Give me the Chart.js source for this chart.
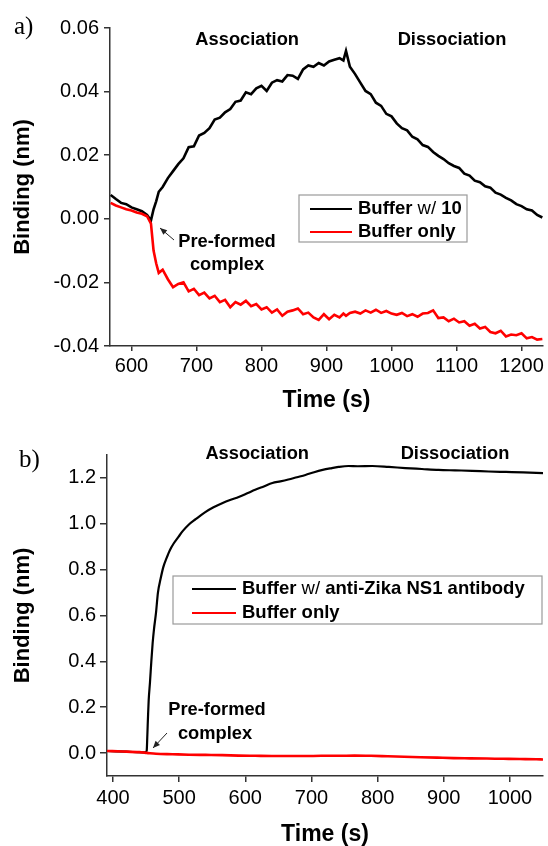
<!DOCTYPE html>
<html><head><meta charset="utf-8">
<script src="https://cdn.jsdelivr.net/npm/chart.js@4.4.1/dist/chart.umd.min.js"></script>
<style>
html,body{margin:0;padding:0;background:#fff;}
#wrap{position:relative;width:548px;height:846px;overflow:hidden;}
.pane{position:absolute;left:0;width:548px;height:423px;}
</style></head><body>
<div id="wrap">
<div class="pane" style="top:0"><canvas id="cA" width="548" height="423"></canvas></div>
<div class="pane" style="top:423px"><canvas id="cB" width="548" height="423"></canvas></div>
</div>
<script>
// ---- Panel a) data ----
const timeA = [568,576,584,592,600,608,616,624,630,634,638,642,648,656,664,672,680,688,696,704,
712,720,728,736,744,752,760,768,776,784,792,800,808,816,824,832,840,848,856,864,
872,880,888,896,904,912,920,926,930,936,944,952,960,968,976,984,992,1000,1008,1016,
1024,1032,1040,1048,1056,1064,1072,1080,1088,1096,1104,1112,1120,1128,1136,1144,1152,1160,1168,1176,
1184,1192,1200,1208,1216,1224,1232];
const bufferWith10A = [0.0075,0.0062,0.0050,0.0046,0.0036,0.0030,0.0024,0.0012,-0.0005,0.0030,
0.0055,0.0085,0.0100,0.0128,0.0150,0.0172,0.0190,0.0225,0.0228,0.0262,
0.0270,0.0285,0.0312,0.0318,0.0335,0.0345,0.0368,0.0372,0.0398,0.0392,
0.0410,0.0418,0.0402,0.0428,0.0436,0.0432,0.0452,0.0450,0.0440,0.0470,
0.0482,0.0478,0.0490,0.0482,0.0495,0.0500,0.0505,0.0498,0.0528,0.0478,
0.0455,0.0428,0.0402,0.0392,0.0365,0.0355,0.0330,0.0322,0.0300,0.0285,
0.0278,0.0258,0.0250,0.0232,0.0226,0.0210,0.0198,0.0188,0.0175,0.0166,
0.0160,0.0142,0.0136,0.0120,0.0115,0.0102,0.0098,0.0082,0.0076,0.0066,
0.0058,0.0046,0.0040,0.0030,0.0026,0.0012,0.0004];
const bufferOnlyA = [0.0050,0.0042,0.0036,0.0030,0.0026,0.0020,0.0016,0.0008,-0.0015,-0.0100,
-0.0140,-0.0170,-0.0160,-0.0190,-0.0215,-0.0205,-0.0200,-0.0228,-0.0220,-0.0240,
-0.0232,-0.0250,-0.0242,-0.0262,-0.0255,-0.0278,-0.0262,-0.0270,-0.0258,-0.0275,
-0.0268,-0.0285,-0.0278,-0.0295,-0.0285,-0.0305,-0.0292,-0.0288,-0.0282,-0.0300,
-0.0295,-0.0310,-0.0318,-0.0300,-0.0316,-0.0302,-0.0310,-0.0298,-0.0305,-0.0296,
-0.0292,-0.0298,-0.0288,-0.0295,-0.0286,-0.0296,-0.0290,-0.0298,-0.0302,-0.0296,
-0.0306,-0.0300,-0.0308,-0.0298,-0.0296,-0.0288,-0.0312,-0.0310,-0.0322,-0.0314,
-0.0326,-0.0322,-0.0336,-0.0330,-0.0345,-0.0340,-0.0356,-0.0360,-0.0352,-0.0370,
-0.0364,-0.0366,-0.0360,-0.0376,-0.0372,-0.0380,-0.0378];
const xTicksA = [600,700,800,900,1000,1100,1200];
const yTicksA = [-0.04,-0.02,0.00,0.02,0.04,0.06];

// ---- Panel b) data ----
const timeB1 = [391,420,449,451,452,453,454,456,458,460,462,465,468,472,476,481,486,492,499,506,
514,525,539,552,565,578,590,603,615,628,641,653,665,678,691,704,717,729,741,756,
770,792,817,842,867,892,917,943,968,994,1020,1050];
const antibodyB = [0.009,0.006,0.003,0.010,0.080,0.160,0.230,0.310,0.400,0.480,0.540,0.610,0.700,0.760,0.810,0.850,0.885,0.915,0.943,0.970,
0.995,1.020,1.050,1.072,1.090,1.105,1.117,1.133,1.148,1.163,1.178,1.185,1.193,1.203,1.213,1.225,1.235,1.242,1.248,1.252,
1.251,1.252,1.248,1.243,1.239,1.235,1.233,1.231,1.228,1.226,1.224,1.221];
const timeB2 = [391,415,440,451,465,490,515,540,565,590,615,640,665,690,715,740,765,790,815,840,865,890,915,940,965,990,1015,1040,1050];
const bufferOnlyB = [0.009,0.007,0.004,0.001,-0.003,-0.005,-0.007,-0.008,-0.009,-0.011,-0.012,-0.013,-0.013,-0.013,-0.012,-0.012,-0.011,-0.012,-0.014,-0.016,-0.018,-0.020,-0.022,-0.023,-0.024,-0.025,-0.026,-0.027,-0.028];
const xTicksB = [400,500,600,700,800,900,1000];
const yTicksB = [0.0,0.2,0.4,0.6,0.8,1.0,1.2];

const SANS = 'Arial, "Liberation Sans", sans-serif';
const SERIF = '"Times New Roman", "Liberation Serif", serif';
Chart.defaults.font.family = SANS;
Chart.defaults.color = '#000';

const toPts = (xs, ys) => xs.map((x, i) => ({x: x, y: ys[i]}));

const decor = {
  id: 'decor',
  afterDraw(chart, args, o) {
    const ctx = chart.ctx;
    const sx = chart.scales.x, sy = chart.scales.y;
    ctx.save();
    ctx.fillStyle = '#000';
    // panel label
    ctx.font = '25px ' + SERIF;
    ctx.textAlign = 'left'; ctx.textBaseline = 'alphabetic';
    ctx.fillText(o.panel.text, o.panel.x, o.panel.y);
    // phase labels
    ctx.font = 'bold 18.3px ' + SANS;
    ctx.textAlign = 'center'; ctx.textBaseline = 'middle';
    o.phases.forEach(p => ctx.fillText(p.text, sx.getPixelForValue(p.x), sy.getPixelForValue(p.y)));
    // note
    o.note.lines.forEach(l => ctx.fillText(l.text, l.x, l.y));
    // arrow
    const a = o.note.arrow;
    ctx.strokeStyle = '#222'; ctx.lineWidth = 1;
    ctx.beginPath(); ctx.moveTo(a[0], a[1]); ctx.lineTo(a[2], a[3]); ctx.stroke();
    const ang = Math.atan2(a[3] - a[1], a[2] - a[0]);
    const L = 7, W = 3;
    ctx.fillStyle = '#222';
    ctx.beginPath();
    ctx.moveTo(a[2], a[3]);
    ctx.lineTo(a[2] - L*Math.cos(ang) + W*Math.sin(ang), a[3] - L*Math.sin(ang) - W*Math.cos(ang));
    ctx.lineTo(a[2] - L*Math.cos(ang) - W*Math.sin(ang), a[3] - L*Math.sin(ang) + W*Math.cos(ang));
    ctx.closePath(); ctx.fill();
    // legend
    const lg = o.legend;
    ctx.strokeStyle = '#9a9a9a'; ctx.lineWidth = 1.2;
    ctx.strokeRect(lg.box[0], lg.box[1], lg.box[2], lg.box[3]);
    lg.items.forEach(it => {
      ctx.strokeStyle = it.color; ctx.lineWidth = 2.2;
      ctx.beginPath(); ctx.moveTo(lg.lineX[0], it.y); ctx.lineTo(lg.lineX[1], it.y); ctx.stroke();
      let x = lg.textX;
      ctx.textAlign = 'left'; ctx.textBaseline = 'middle'; ctx.fillStyle = '#000';
      it.parts.forEach(pt => {
        ctx.font = (pt[1] ? 'bold ' : '') + '18.5px ' + SANS;
        ctx.fillText(pt[0], x, it.y);
        x += ctx.measureText(pt[0]).width;
      });
    });
    ctx.restore();
  }
};

function axisCommon(opts) {
  return {
    type: 'linear', min: opts.min, max: opts.max,
    afterBuildTicks: s => { s.ticks = opts.ticks.map(v => ({value: v})); },
    afterFit: opts.fit,
    ticks: {font: {size: 20}, color: '#000', padding: opts.pad, autoSkip: false, maxRotation: 0,
            callback: opts.fmt},
    grid: {drawOnChartArea: false, tickLength: opts.tl, color: '#333', lineWidth: 1.5, tickWidth: 1.5},
    border: {display: true, color: '#333', width: 1.5},
    title: {display: true, text: opts.title, color: '#000',
            font: {size: opts.tsize, weight: 'bold', lineHeight: 1}, padding: opts.tpad}
  };
}

new Chart(document.getElementById('cA'), {
  type: 'line',
  data: {datasets: [
    {label: 'Buffer w/ 10', data: toPts(timeA, bufferWith10A), borderColor: '#000', borderWidth: 2.6, pointRadius: 0, tension: 0, order: 1},
    {label: 'Buffer only', data: toPts(timeA, bufferOnlyA), borderColor: '#ff0000', borderWidth: 2.6, pointRadius: 0, tension: 0, order: 0}
  ]},
  options: {
    responsive: false, animation: false, devicePixelRatio: 1,
    layout: {padding: {left: 0, right: 5, top: 28, bottom: 0}},
    plugins: {
      legend: {display: false}, tooltip: {enabled: false},
      decor: {
        panel: {text: 'a)', x: 14, y: 34},
        phases: [{text: 'Association', x: 778, y: 0.0562}, {text: 'Dissociation', x: 1093, y: 0.0562}],
        note: {lines: [{text: 'Pre-formed', x: 227, y: 242}, {text: 'complex', x: 227, y: 265}],
               arrow: [174, 240, 160, 228]},
        legend: {box: [299, 195, 168, 47], lineX: [310, 352], textX: 358,
                 items: [{color: '#000', y: 209, parts: [['Buffer ', true], ['w/ ', false], ['10', true]]},
                         {color: '#ff0000', y: 232, parts: [['Buffer only', true]]}]}
      }
    },
    scales: {
      x: axisCommon({min: 567, max: 1233, ticks: xTicksA, fit: s => { s.height = 77; }, pad: 3, tl: 5,
                     fmt: v => String(v), title: 'Time (s)', tsize: 23, tpad: {top: 0, bottom: 11}}),
      y: axisCommon({min: -0.04, max: 0.06, ticks: yTicksA, fit: s => { s.width = 110; }, pad: 5, tl: 6,
                     fmt: v => v.toFixed(2), title: 'Binding (nm)', tsize: 22, tpad: {top: 12, bottom: 0}})
    }
  },
  plugins: [decor]
});

new Chart(document.getElementById('cB'), {
  type: 'line',
  data: {datasets: [
    {label: 'Buffer w/ anti-Zika NS1 antibody', data: toPts(timeB1, antibodyB), borderColor: '#000', borderWidth: 2.2, pointRadius: 0, cubicInterpolationMode: 'monotone', order: 1},
    {label: 'Buffer only', data: toPts(timeB2, bufferOnlyB), borderColor: '#ff0000', borderWidth: 2.6, pointRadius: 0, cubicInterpolationMode: 'monotone', order: 0}
  ]},
  options: {
    responsive: false, animation: false, devicePixelRatio: 1,
    layout: {padding: {left: 0, right: 5, top: 32, bottom: 0}},
    plugins: {
      legend: {display: false}, tooltip: {enabled: false},
      decor: {
        panel: {text: 'b)', x: 19, y: 44},
        phases: [{text: 'Association', x: 618, y: 1.305}, {text: 'Dissociation', x: 917, y: 1.305}],
        note: {lines: [{text: 'Pre-formed', x: 217, y: 287}, {text: 'complex', x: 215, y: 311}],
               arrow: [167, 310, 153, 325]},
        legend: {box: [173, 153, 369, 48], lineX: [192, 236], textX: 242,
                 items: [{color: '#000', y: 166, parts: [['Buffer ', true], ['w/ ', false], ['anti-Zika NS1 antibody', true]]},
                         {color: '#ff0000', y: 190, parts: [['Buffer only', true]]}]}
      }
    },
    scales: {
      x: axisCommon({min: 391, max: 1050, ticks: xTicksB, fit: s => { s.height = 70; }, pad: 4, tl: 6,
                     fmt: v => String(v), title: 'Time (s)', tsize: 23, tpad: {top: 0, bottom: 0}}),
      y: axisCommon({min: -0.1, max: 1.3, ticks: yTicksB, fit: s => { s.width = 107; }, pad: 4, tl: 7,
                     fmt: v => v.toFixed(1), title: 'Binding (nm)', tsize: 22, tpad: {top: 12, bottom: 0}})
    }
  },
  plugins: [decor]
});
</script>
</body></html>
